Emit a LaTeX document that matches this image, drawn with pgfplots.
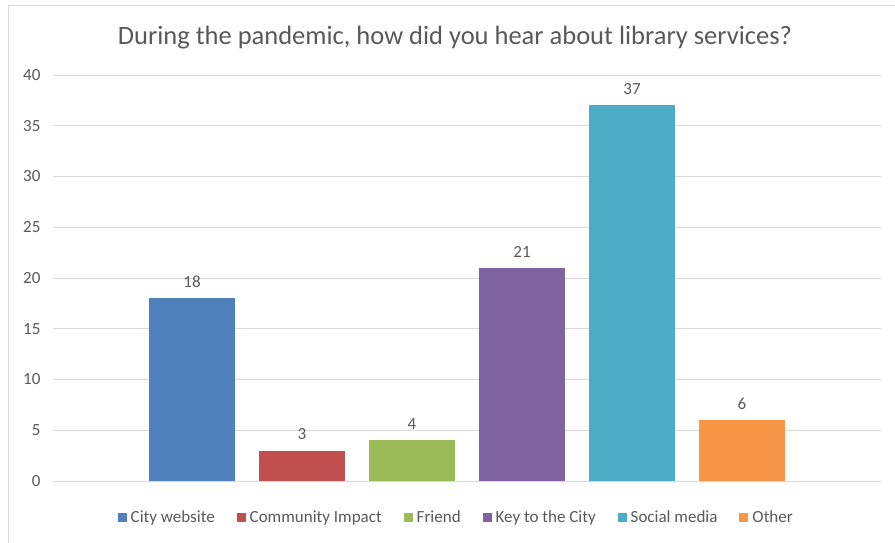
\documentclass[border=0pt]{standalone}
\usepackage{fontspec}
\setmainfont{Carlito}
\usepackage{pgfplots}
\pgfplotsset{compat=1.18}
\definecolor{cA}{HTML}{4F81BD}
\definecolor{cB}{HTML}{C0504D}
\definecolor{cC}{HTML}{9BBB59}
\definecolor{cD}{HTML}{8064A2}
\definecolor{cE}{HTML}{4BACC6}
\definecolor{cF}{HTML}{F79646}
\definecolor{txt}{HTML}{595959}
\definecolor{gridc}{HTML}{D9D9D9}
\begin{document}
\begin{tikzpicture}[x=1pt,y=1pt]
\useasboundingbox (0,0) rectangle (895,543);
\draw[gridc, line width=0.9pt] (8,-5) -- (8,538) -- (900,538);
\node[font=\fontsize{26.5}{30}\selectfont, text=txt] at (455,505)
  {During the pandemic, how did you hear about library services?};
\begin{axis}[
  at={(53pt,62pt)}, anchor=south west,
  scale only axis, width=828pt, height=406pt,
  xmin=-0.2636, xmax=7.2636,
  ymin=0, ymax=40,
  ytick={0,5,...,40}, xtick=\empty,
  ymajorgrids, grid style={color=gridc, line width=0.9pt},
  axis line style={draw=none},
  major tick length=0pt,
  ybar, bar width=0.79, bar shift=0pt,
  tick label style={font=\fontsize{17}{20}\selectfont, text=txt},
  yticklabel style={xshift=-9pt},
  /pgf/number format/assume math mode=true,
  nodes near coords,
  every node near coord/.append style={font=\fontsize{17}{20}\selectfont, text=txt, yshift=7pt},
  legend columns=-1,
  legend style={at={(axis description cs:0.487,-0.0887)}, anchor=center,
    draw=none, fill=none, font=\fontsize{17}{20}\selectfont, text=txt,
    /tikz/every odd column/.append style={column sep=2pt},
    /tikz/every even column/.append style={column sep=20pt}},
  legend image code/.code={\fill[#1] (0pt,-4.5pt) rectangle (9pt,4.5pt);},
]
\addplot[fill=cA, draw=none] coordinates {(1,18)};
\addlegendentry{City website}
\addplot[fill=cB, draw=none] coordinates {(2,3)};
\addlegendentry{Community Impact}
\addplot[fill=cC, draw=none] coordinates {(3,4)};
\addlegendentry{Friend}
\addplot[fill=cD, draw=none] coordinates {(4,21)};
\addlegendentry{Key to the City}
\addplot[fill=cE, draw=none] coordinates {(5,37)};
\addlegendentry{Social media}
\addplot[fill=cF, draw=none] coordinates {(6,6)};
\addlegendentry{Other}
\end{axis}
\end{tikzpicture}
\end{document}
